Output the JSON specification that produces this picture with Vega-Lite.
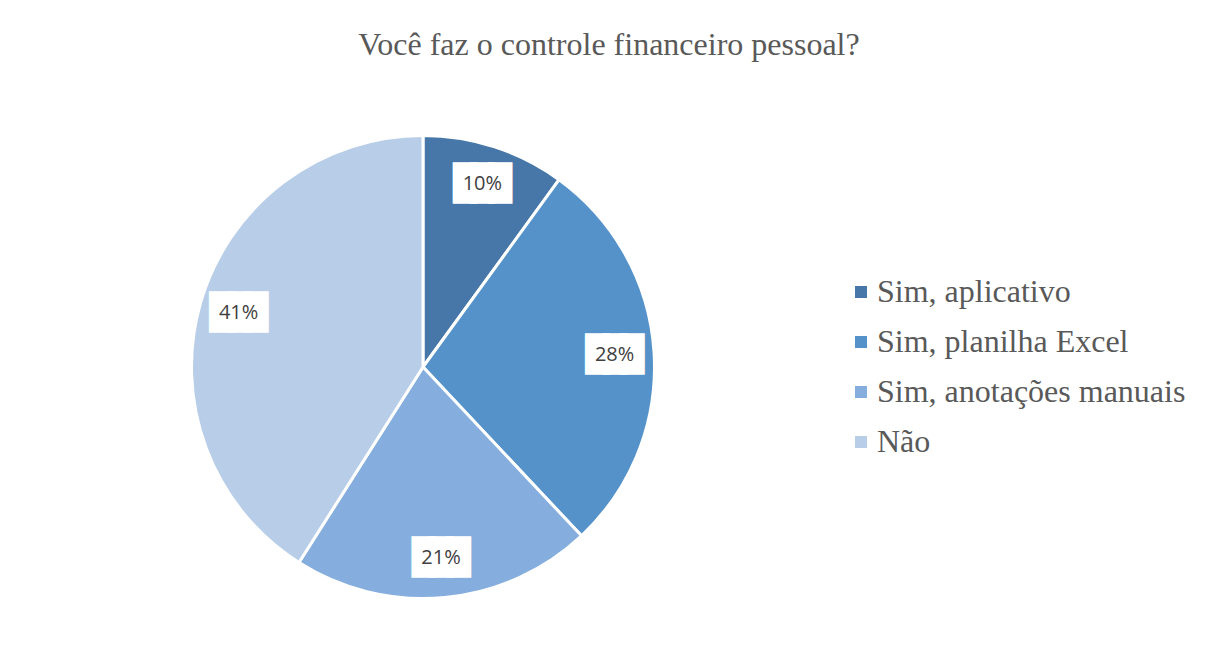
{
  "$schema": "https://vega.github.io/schema/vega-lite/v6.json",
  "width": 846,
  "height": 534,
  "autosize": "none",
  "padding": {"left": 0, "top": 100, "right": 366, "bottom": 30},
  "background": "white",
  "config": {"view": {"stroke": null}},
  "title": {
    "text": "Você faz o controle financeiro pessoal?",
    "font": "Liberation Serif",
    "fontSize": 32,
    "fontWeight": "normal",
    "color": "#595959",
    "anchor": "middle",
    "dx": 186,
    "offset": 38
  },
  "data": {
    "values": [
      {"resposta": "Sim, aplicativo", "valor": 10, "rotulo": "10%", "ordem": 1},
      {"resposta": "Sim, planilha Excel", "valor": 28, "rotulo": "28%", "ordem": 2},
      {"resposta": "Sim, anotações manuais", "valor": 21, "rotulo": "21%", "ordem": 3},
      {"resposta": "Não", "valor": 41, "rotulo": "41%", "ordem": 4}
    ]
  },
  "encoding": {
    "theta": {"field": "valor", "type": "quantitative", "stack": true},
    "order": {"field": "ordem", "type": "quantitative"}
  },
  "layer": [
    {
      "mark": {"type": "arc", "outerRadius": 231.5, "stroke": "white", "strokeWidth": 3},
      "encoding": {
        "color": {
          "field": "resposta",
          "type": "nominal",
          "scale": {
            "domain": ["Sim, aplicativo", "Sim, planilha Excel", "Sim, anotações manuais", "Não"],
            "range": ["#4677a8", "#5592c9", "#85aede", "#b8cde8"]
          },
          "legend": {
            "title": null,
            "orient": "none",
            "legendX": 845,
            "legendY": 176,
            "symbolType": "square",
            "symbolSize": 144,
            "symbolStrokeWidth": 0,
            "labelFont": "Liberation Serif",
            "labelFontSize": 32,
            "labelColor": "#595959",
            "labelOffset": 0,
            "rowPadding": 18,
            "labelLimit": 400
          }
        }
      }
    },
    {
      "mark": {"type": "text", "radius": 192, "font": "DejaVu Sans Mono", "fontSize": 29, "color": "white", "stroke": "white", "strokeWidth": 7, "baseline": "middle", "align": "center"},
      "encoding": {"text": {"value": "███"}}
    },
    {
      "mark": {"type": "text", "radius": 192, "font": "Open Sans", "fontSize": 20, "color": "#404040", "baseline": "middle", "align": "center"},
      "encoding": {"text": {"field": "rotulo", "type": "nominal"}}
    }
  ]
}
